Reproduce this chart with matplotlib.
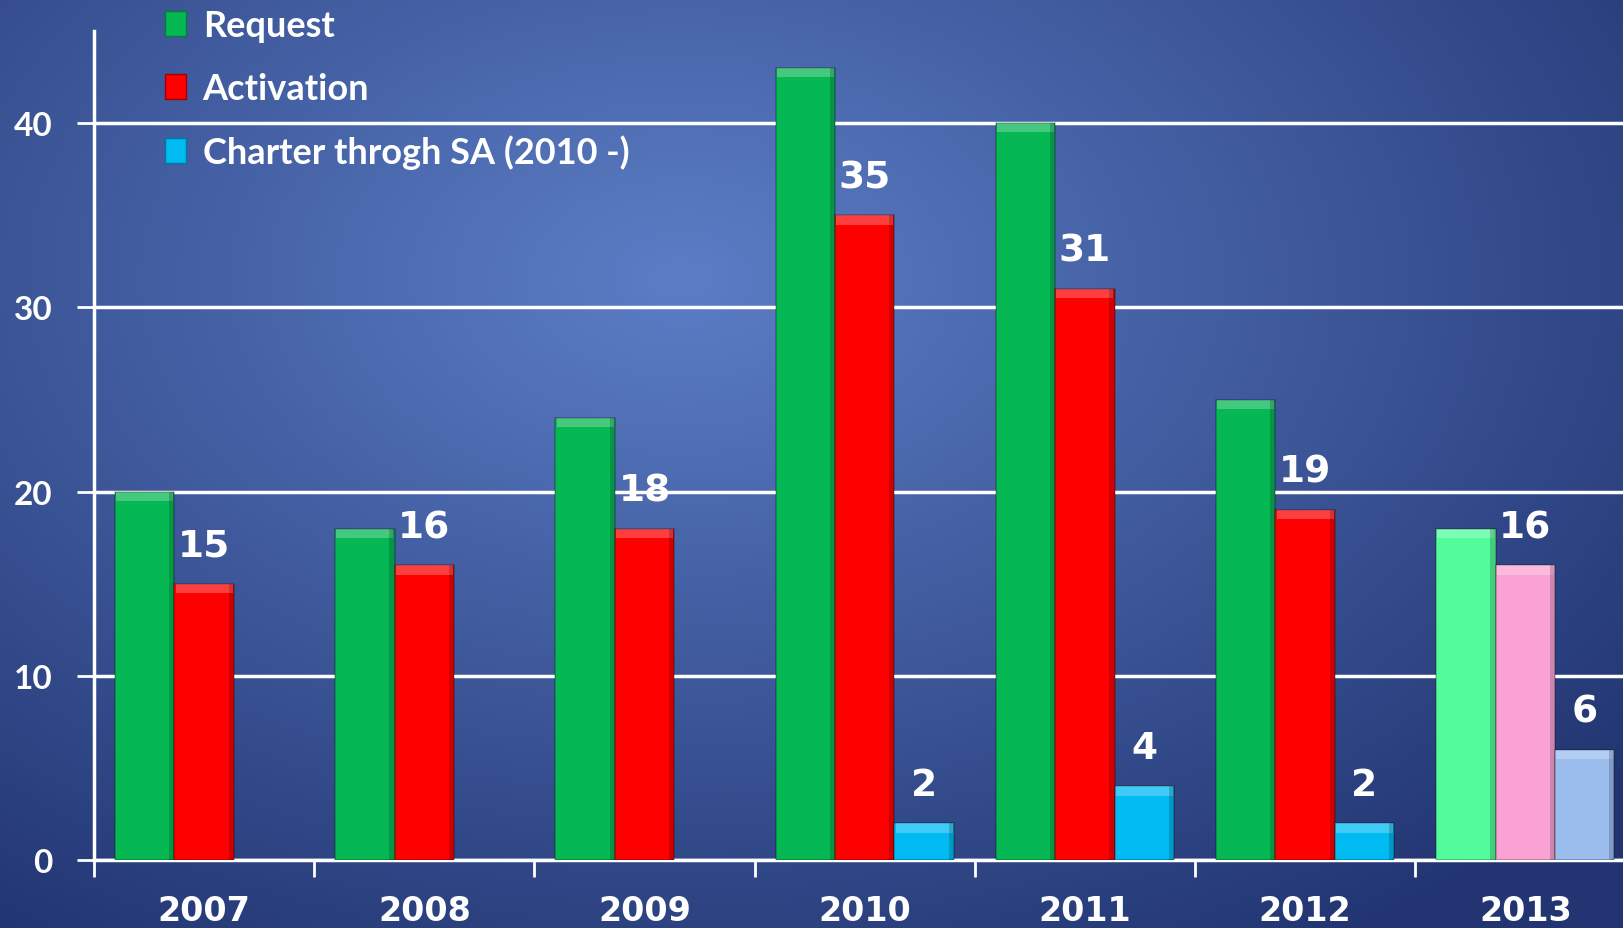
import numpy as np
import matplotlib.pyplot as plt
from matplotlib.patches import Patch

years = ["2007", "2008", "2009", "2010", "2011", "2012", "2013"]
request = [20, 18, 24, 43, 40, 25, 18]
activation = [15, 16, 18, 35, 31, 19, 16]
charter = [np.nan, np.nan, np.nan, 2, 4, 2, 6]

green = ["#06b853"] * 6 + ["#52fc9a"]
red = ["#fe0000"] * 6 + ["#fba2d4"]
cyan = ["#00baf2"] * 6 + ["#9bbdee"]

fig = plt.figure(figsize=(16.23, 9.29), dpi=100)

# radial-ish blue background
bg = fig.add_axes([0, 0, 1, 1], zorder=-10)
yy, xx = np.mgrid[0:1:300j, 0:1:500j]
d = np.sqrt(((xx - 0.42) / 0.75) ** 2 + ((yy - 0.3) / 0.85) ** 2)
d = np.clip(d, 0, 1)
c0 = np.array([0x5c, 0x7e, 0xc6]) / 255
c1 = np.array([0x22, 0x35, 0x72]) / 255
img = c0[None, None, :] * (1 - d[..., None]) + c1[None, None, :] * d[..., None]
bg.imshow(img, aspect="auto", extent=[0, 1, 0, 1], origin="upper")
bg.axis("off")

ax = fig.add_axes([0.058, 0.073, 0.945, 0.8925])
ax.set_facecolor("none")

x = np.arange(len(years))
w = 0.27


def bevel_bars(xpos, vals, cols):
    bars = ax.bar(xpos, vals, w, color=cols, edgecolor="#00000040", linewidth=1.2, zorder=3)
    for b in bars:
        h = b.get_height()
        if np.isnan(h):
            continue
        # light strip on top and shaded right edge for the 3d look
        ax.bar(b.get_x() + b.get_width() / 2, 0.5, w * 0.96, bottom=h - 0.5,
               color="white", alpha=0.25, linewidth=0, zorder=4)
        ax.bar(b.get_x() + w - 0.012, h, 0.024, color="black", alpha=0.18,
               linewidth=0, zorder=4)
    return bars


bevel_bars(x - w, request, green)
bevel_bars(x, activation, red)
bevel_bars(x + w, charter, cyan)

for i in range(len(years)):
    ax.text(x[i], activation[i] + 1.1, str(activation[i]), ha="center", va="bottom",
            color="white", fontsize=27, fontweight="bold", zorder=5)
    if not np.isnan(charter[i]):
        ax.text(x[i] + w, charter[i] + 1.1, str(int(charter[i])), ha="center", va="bottom",
                color="white", fontsize=27, fontweight="bold", zorder=5)

ax.set_ylim(0, 45)
ax.set_xlim(-0.5, 6.466)
ax.set_yticks([0, 10, 20, 30, 40])
ax.yaxis.grid(True, color="white", linewidth=2.5, zorder=0)
ax.set_axisbelow(True)
ax.set_yticklabels(["0", "10", "20", "30", "40"], fontsize=24, fontweight="bold",
                   family="Lato", color="white")
ax.tick_params(axis="y", length=12, width=2, color="white", pad=18)

ax.set_xticks(np.arange(-0.5, 6.5, 1.0))
ax.set_xticklabels([])
ax.set_xticks(x, minor=True)
ax.set_xticklabels(years, minor=True, fontsize=24, fontweight="bold", color="white")
ax.tick_params(axis="x", which="major", length=12, width=2, color="white")
ax.tick_params(axis="x", which="minor", length=0, pad=24)

for s in ["top", "right"]:
    ax.spines[s].set_visible(False)
for s in ["left", "bottom"]:
    ax.spines[s].set_color("white")
    ax.spines[s].set_linewidth(2.5)

handles = [Patch(facecolor="#06b853", edgecolor="#0a7a3a"),
           Patch(facecolor="#fe0000", edgecolor="#a00000"),
           Patch(facecolor="#00baf2", edgecolor="#0078a0")]
leg = fig.legend(handles, ["Request", "Activation", "Charter throgh SA (2010 -)"],
                 loc="upper left", bbox_to_anchor=(0.0815, 1.024), frameon=False,
                 handlelength=0.6, handleheight=0.7, handletextpad=0.45,
                 labelspacing=0.82, prop={"family": "Lato", "weight": "bold", "size": 26})
for t in leg.get_texts():
    t.set_color("white")

fig.savefig("out.png", dpi=100)
